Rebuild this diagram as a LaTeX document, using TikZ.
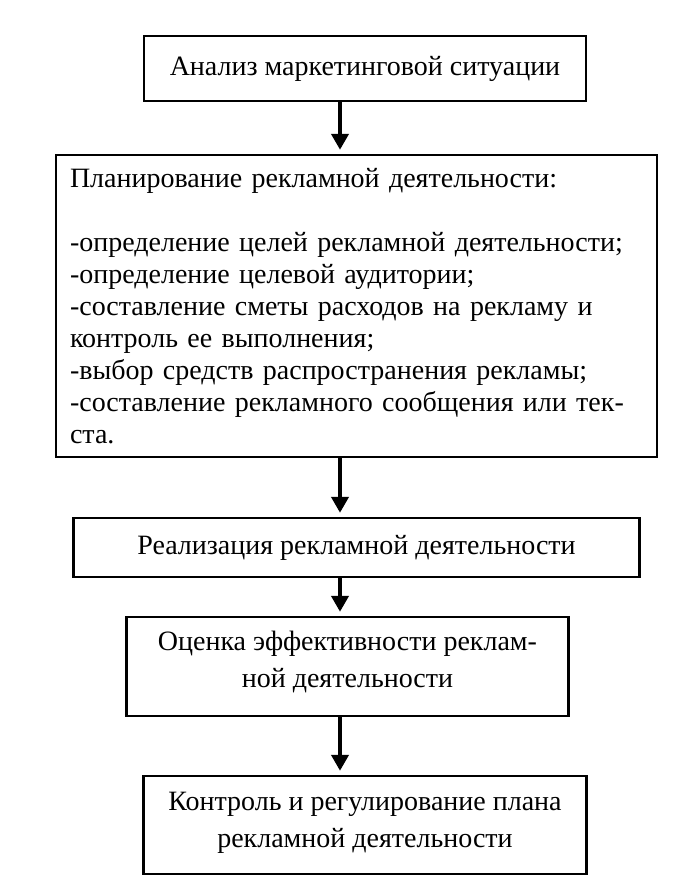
\documentclass[tikz,border=0pt]{standalone}
\usepackage{fontspec}
\setmainfont{Liberation Serif}
\usepackage{tikz}
\usetikzlibrary{positioning,arrows.meta}

\tikzset{
    block/.style={draw, line width=1.2pt, inner xsep=7pt, font=\fontsize{14}{16}\selectfont},
    wide/.style={font=\fontsize{14}{18.5}\selectfont, align=center},
    flow/.style={-{Triangle[width=8.5pt,length=8pt]}, line width=2pt, shorten >=2pt}
}

\begin{document}
\begin{tikzpicture}
    \useasboundingbox (0,0) rectangle (349pt,-441.5pt);
    \coordinate (ax) at (170pt,0);

    \node[block, minimum width=221pt, minimum height=32.5pt] (a) at (182.5pt,-34.25pt) {Анализ маркетинговой ситуации};
    \node[block, below=25.8pt of a, xshift=-4.25pt, minimum width=300.5pt, minimum height=151pt, text width=286.5pt, align=left] (b) {Планирование рекламной деятельности:\\[16pt]
        -определение целей рекламной деятельности;\\
        -определение целевой аудитории;\\
        -составление сметы расходов на рекламу и\\
        контроль ее выполнения;\\
        -выбор средств распространения рекламы;\\
        -составление рекламного сообщения или тек-\\
        ста.};
    \node[block, below=29.3pt of b, minimum width=283pt, minimum height=29.5pt] (c) {Реализация рекламной деятельности};
    \node[block, wide, below=18.8pt of c, xshift=-4.5pt, minimum width=221pt, minimum height=49.5pt, text depth=7pt] (d) {Оценка эффективности реклам-\\ной деятельности};
    \node[block, wide, below=28.8pt of d, xshift=8.75pt, minimum width=221.5pt, minimum height=49pt, text depth=5pt] (e) {Контроль и регулирование плана\\рекламной деятельности};

    \draw[flow] (a.south -| ax) -- (b.north -| ax);
    \draw[flow] (b.south -| ax) -- (c.north -| ax);
    \draw[flow] (c.south -| ax) -- (d.north -| ax);
    \draw[flow] (d.south -| ax) -- (e.north -| ax);
\end{tikzpicture}
\end{document}
